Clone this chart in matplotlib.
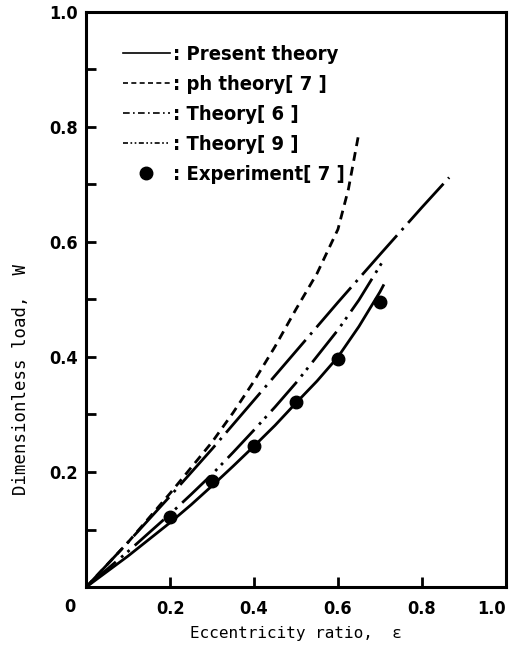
import matplotlib
matplotlib.use("Agg")
import matplotlib.pyplot as plt
from matplotlib.lines import Line2D

# values
eps_present = [0.0, 0.1, 0.2, 0.25, 0.3, 0.35, 0.4, 0.45, 0.5, 0.55, 0.6, 0.65, 0.7, 0.708]
w_present = [0.0, 0.054, 0.112, 0.143, 0.176, 0.21, 0.245, 0.281, 0.32, 0.358, 0.40, 0.453, 0.513, 0.524]

eps_ph = [0.0, 0.1, 0.2, 0.3, 0.35, 0.4, 0.45, 0.5, 0.55, 0.6, 0.625, 0.649]
w_ph = [0.0, 0.078, 0.163, 0.252, 0.303, 0.358, 0.418, 0.483, 0.545, 0.622, 0.692, 0.786]

eps_th6 = [0.0, 0.1, 0.2, 0.3, 0.4, 0.5, 0.6, 0.7, 0.8, 0.865]
w_th6 = [0.0, 0.078, 0.158, 0.24, 0.325, 0.41, 0.495, 0.578, 0.66, 0.712]

eps_th9 = [0.0, 0.1, 0.2, 0.25, 0.3, 0.35, 0.4, 0.45, 0.5, 0.55, 0.6, 0.65, 0.709]
w_th9 = [0.0, 0.062, 0.127, 0.161, 0.196, 0.234, 0.273, 0.313, 0.355, 0.401, 0.447, 0.499, 0.569]

eps_exp = [0.2, 0.3, 0.4, 0.5, 0.6, 0.7]
w_exp = [0.122, 0.184, 0.246, 0.322, 0.397, 0.495]

labels = [": Present theory", ": ph theory[ 7 ]", ": Theory[ 6 ]",
          ": Theory[ 9 ]", ": Experiment[ 7 ]"]

tickfont = dict(family="DejaVu Sans", stretch="condensed", weight="bold", size=13)

fig = plt.figure(figsize=(5.13, 6.57), dpi=100)
ax = fig.add_axes([0.168, 0.1065, 0.818, 0.8755])

lw = 2.0
ax.plot(eps_present, w_present, color="black", lw=lw)
ax.plot(eps_ph, w_ph, color="black", lw=lw, linestyle=(0, (3.2, 2.2)))
ax.plot(eps_th6, w_th6, color="black", lw=lw, linestyle=(0, (19, 2.5, 1, 2.5)))
ax.plot(eps_th9, w_th9, color="black", lw=lw, linestyle=(0, (14, 2.5, 1, 2, 1, 2.5)))
ax.plot(eps_exp, w_exp, "o", color="black", markersize=9)

ax.set_xlim(0, 1.0)
ax.set_ylim(0, 1.0)
ax.set_xticks([0.2, 0.4, 0.6, 0.8, 1.0])
ax.set_xticklabels(["0.2", "0.4", "0.6", "0.8", "1.0"], fontdict=tickfont)
ax.set_yticks([0.2, 0.4, 0.6, 0.8, 1.0])
ax.set_yticklabels(["0.2", "0.4", "0.6", "0.8", "1.0"], fontdict=tickfont)
ax.set_yticks([0.1, 0.3, 0.5, 0.7, 0.9], minor=True)
ax.tick_params(axis="both", which="both", direction="in", length=7, width=2)
ax.tick_params(axis="x", pad=9)
ax.tick_params(axis="y", pad=6)
ax.get_xticklabels()[-1].set_ha("right")
ax.text(-0.04, -0.035, "0", transform=ax.transAxes, ha="center", va="center", **tickfont)
for s in ax.spines.values():
    s.set_linewidth(2.2)

ax.set_xlabel("Eccentricity ratio,  \u03b5", family="DejaVu Sans Mono", size=11.5, labelpad=6)
ax.set_ylabel("Dimensionless load,  W", family="DejaVu Sans Mono", size=12.5)
ax.yaxis.set_label_coords(-0.135, 0.36)

# legend with shorter dash patterns than the curves
handles = [
    Line2D([], [], color="black", lw=1.2),
    Line2D([], [], color="black", lw=1.2, linestyle=(0, (3, 2))),
    Line2D([], [], color="black", lw=1.2, linestyle=(0, (4, 2, 1, 2))),
    Line2D([], [], color="black", lw=1.2, linestyle=(0, (3, 1.5, 1, 1.5, 1, 1.5))),
    Line2D([], [], color="black", marker="o", linestyle="none", markersize=9),
]
leg = ax.legend(handles, labels, loc="upper left", bbox_to_anchor=(0.069, 0.957),
                frameon=False, handlelength=2.3, handletextpad=0.15,
                labelspacing=0.55, borderaxespad=0,
                prop=dict(family="DejaVu Sans", stretch="condensed", weight="bold", size=14.5))

fig.savefig("out.png", dpi=100)
